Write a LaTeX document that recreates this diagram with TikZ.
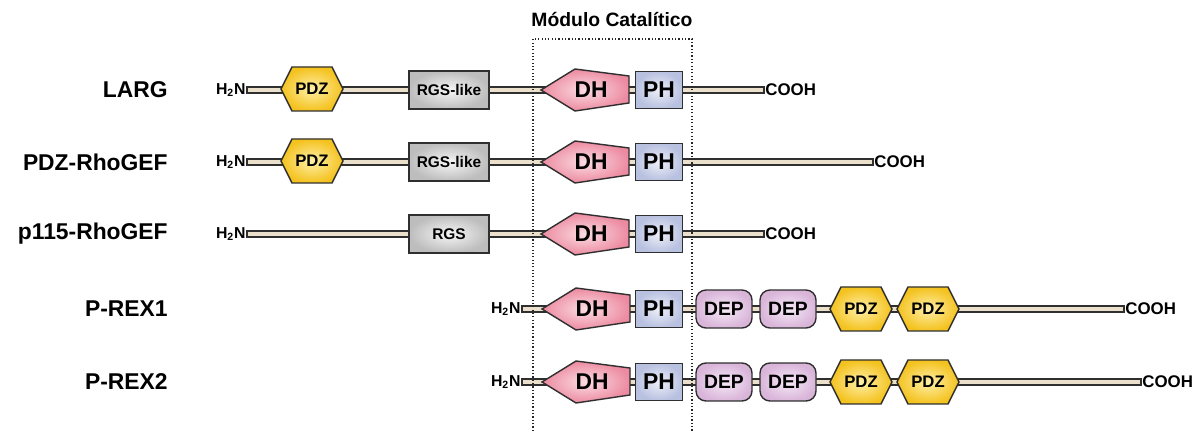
\documentclass[tikz,border=0pt]{standalone}
\usepackage{fontspec}
\setmainfont{Liberation Sans}
\usetikzlibrary{calc}
\definecolor{edge}{HTML}{2F2F2F}
\definecolor{barfill}{HTML}{EBE0CB}
\definecolor{pdzin}{HTML}{FFF0A8}
\definecolor{pdzout}{HTML}{F4C21E}
\definecolor{dhin}{HTML}{FBDDE3}
\definecolor{dhout}{HTML}{EC8AA0}
\definecolor{phin}{HTML}{EEF0F8}
\definecolor{phout}{HTML}{B8C1E0}
\definecolor{depin}{HTML}{F6EAF6}
\definecolor{depout}{HTML}{D9B5DA}
\definecolor{rgsin}{HTML}{F6F6F6}
\definecolor{rgsout}{HTML}{BDBDBD}
\tikzset{
	bar/.style={draw=edge, line width=0.6pt, fill=barfill},
	protname/.style={anchor=east, inner sep=0pt, font=\fontsize{13}{15}\selectfont\bfseries},
	nterm/.style={anchor=east, inner sep=0.6pt, font=\fontsize{9}{11}\selectfont\bfseries},
	cterm/.style={anchor=west, inner sep=0.6pt, font=\fontsize{9.6}{11}\selectfont\bfseries},
	domtext/.style={inner sep=0pt, font=\fontsize{#1}{13}\selectfont\bfseries},
	phbox/.style={draw=edge, line width=0.8pt, inner color=phin, outer color=phout, minimum width=0.94cm, minimum height=0.74cm, domtext=13},
	rgsbox/.style={draw=edge, line width=0.8pt, inner color=rgsin, outer color=rgsout, minimum width=1.6cm, minimum height=0.76cm, domtext=8.8},
	depbox/.style={draw=edge, line width=0.8pt, rounded corners=0.2cm, inner color=depin, outer color=depout, minimum width=1.12cm, minimum height=0.76cm, domtext=11},
	pdzfill/.style={draw=edge, line width=0.8pt, inner color=pdzin, outer color=pdzout},
	dhfill/.style={draw=edge, line width=0.8pt, inner color=dhin, outer color=dhout},
	catbox/.style={draw=black!85, line width=0.8pt, dash pattern=on 0.7pt off 1.2pt},
}
\newcommand{\pdzdomain}[2]{%
	\draw[pdzfill] ($(#2)+(-31,0)$) -- ++(11,-22) -- ++(40,0) -- ++(11,22) -- ++(-11,22) -- ++(-40,0) -- cycle;
	\node[domtext=9.5] (#1) at (#2) {PDZ};}
\newcommand{\dhdomain}[2]{%
	\draw[dhfill] (#2) -- ++(34,-21) -- ++(54,7) -- ++(0,27) -- ++(-54,8) -- cycle;
	\node[domtext=13] (#1) at ($(#2)+(50,0)$) {DH};}

\begin{document}
\begin{tikzpicture}[x=0.02cm, y=-0.02cm]
	\useasboundingbox (0,0) rectangle (1202,431);
	% LARG
	\node[protname] (larg) at (168,90) {LARG};
	\node[nterm] (n1) at (247,90) {H\textsubscript{2}N};
	\node[cterm] (c1) at (764,90) {COOH};
	\path[bar] ($(n1.east)+(0,-3)$) rectangle ($(c1.west)+(0,3)$);
	\pdzdomain{pdz1}{312,89}
	\node[rgsbox] (rgs1) at (449,90) {RGS-like};
	\dhdomain{dh1}{541,90}
	\node[phbox] (ph1) at (659,90) {PH};
	% PDZ-RhoGEF
	\node[protname] (pdzrho) at (168,162) {PDZ-RhoGEF};
	\node[nterm] (n2) at (247,162) {H\textsubscript{2}N};
	\node[cterm] (c2) at (873,162) {COOH};
	\path[bar] ($(n2.east)+(0,-3)$) rectangle ($(c2.west)+(0,3)$);
	\pdzdomain{pdz2}{312,161}
	\node[rgsbox] (rgs2) at (449,162) {RGS-like};
	\dhdomain{dh2}{541,162}
	\node[phbox] (ph2) at (659,162) {PH};
	% p115-RhoGEF
	\node[protname] (p115) at (168,234) {p115-RhoGEF};
	\node[nterm] (n3) at (247,234) {H\textsubscript{2}N};
	\node[cterm] (c3) at (764,234) {COOH};
	\path[bar] ($(n3.east)+(0,-3)$) rectangle ($(c3.west)+(0,3)$);
	\node[rgsbox] (rgs3) at (449,234) {RGS};
	\dhdomain{dh3}{541,234}
	\node[phbox] (ph3) at (659,234) {PH};
	% P-REX1
	\node[protname] (prex1) at (168,309) {P-REX1};
	\node[nterm] (n4) at (522,309) {H\textsubscript{2}N};
	\node[cterm] (c4) at (1124,309) {COOH};
	\path[bar] ($(n4.east)+(0,-3)$) rectangle ($(c4.west)+(0,3)$);
	\dhdomain{dh4}{542,309}
	\node[phbox] (ph4) at (659,309) {PH};
	\node[depbox] (dep4a) at (724,309) {DEP};
	\node[depbox] (dep4b) at (788,309) {DEP};
	\pdzdomain{pdz4a}{861,309}
	\pdzdomain{pdz4b}{928,309}
	% P-REX2
	\node[protname] (prex2) at (168,382) {P-REX2};
	\node[nterm] (n5) at (522,382) {H\textsubscript{2}N};
	\node[cterm] (c5) at (1141,382) {COOH};
	\path[bar] ($(n5.east)+(0,-3)$) rectangle ($(c5.west)+(0,3)$);
	\dhdomain{dh5}{542,382}
	\node[phbox] (ph5) at (659,382) {PH};
	\node[depbox] (dep5a) at (724,382) {DEP};
	\node[depbox] (dep5b) at (788,382) {DEP};
	\pdzdomain{pdz5a}{861,382}
	\pdzdomain{pdz5b}{928,382}
	% modulo catalitico
	\draw[catbox] (533,431) -- (533,39) -- (692,39) -- (692,431);
	\node[domtext=11] (cat) at (612,20) {Módulo Catalítico};
\end{tikzpicture}
\end{document}
